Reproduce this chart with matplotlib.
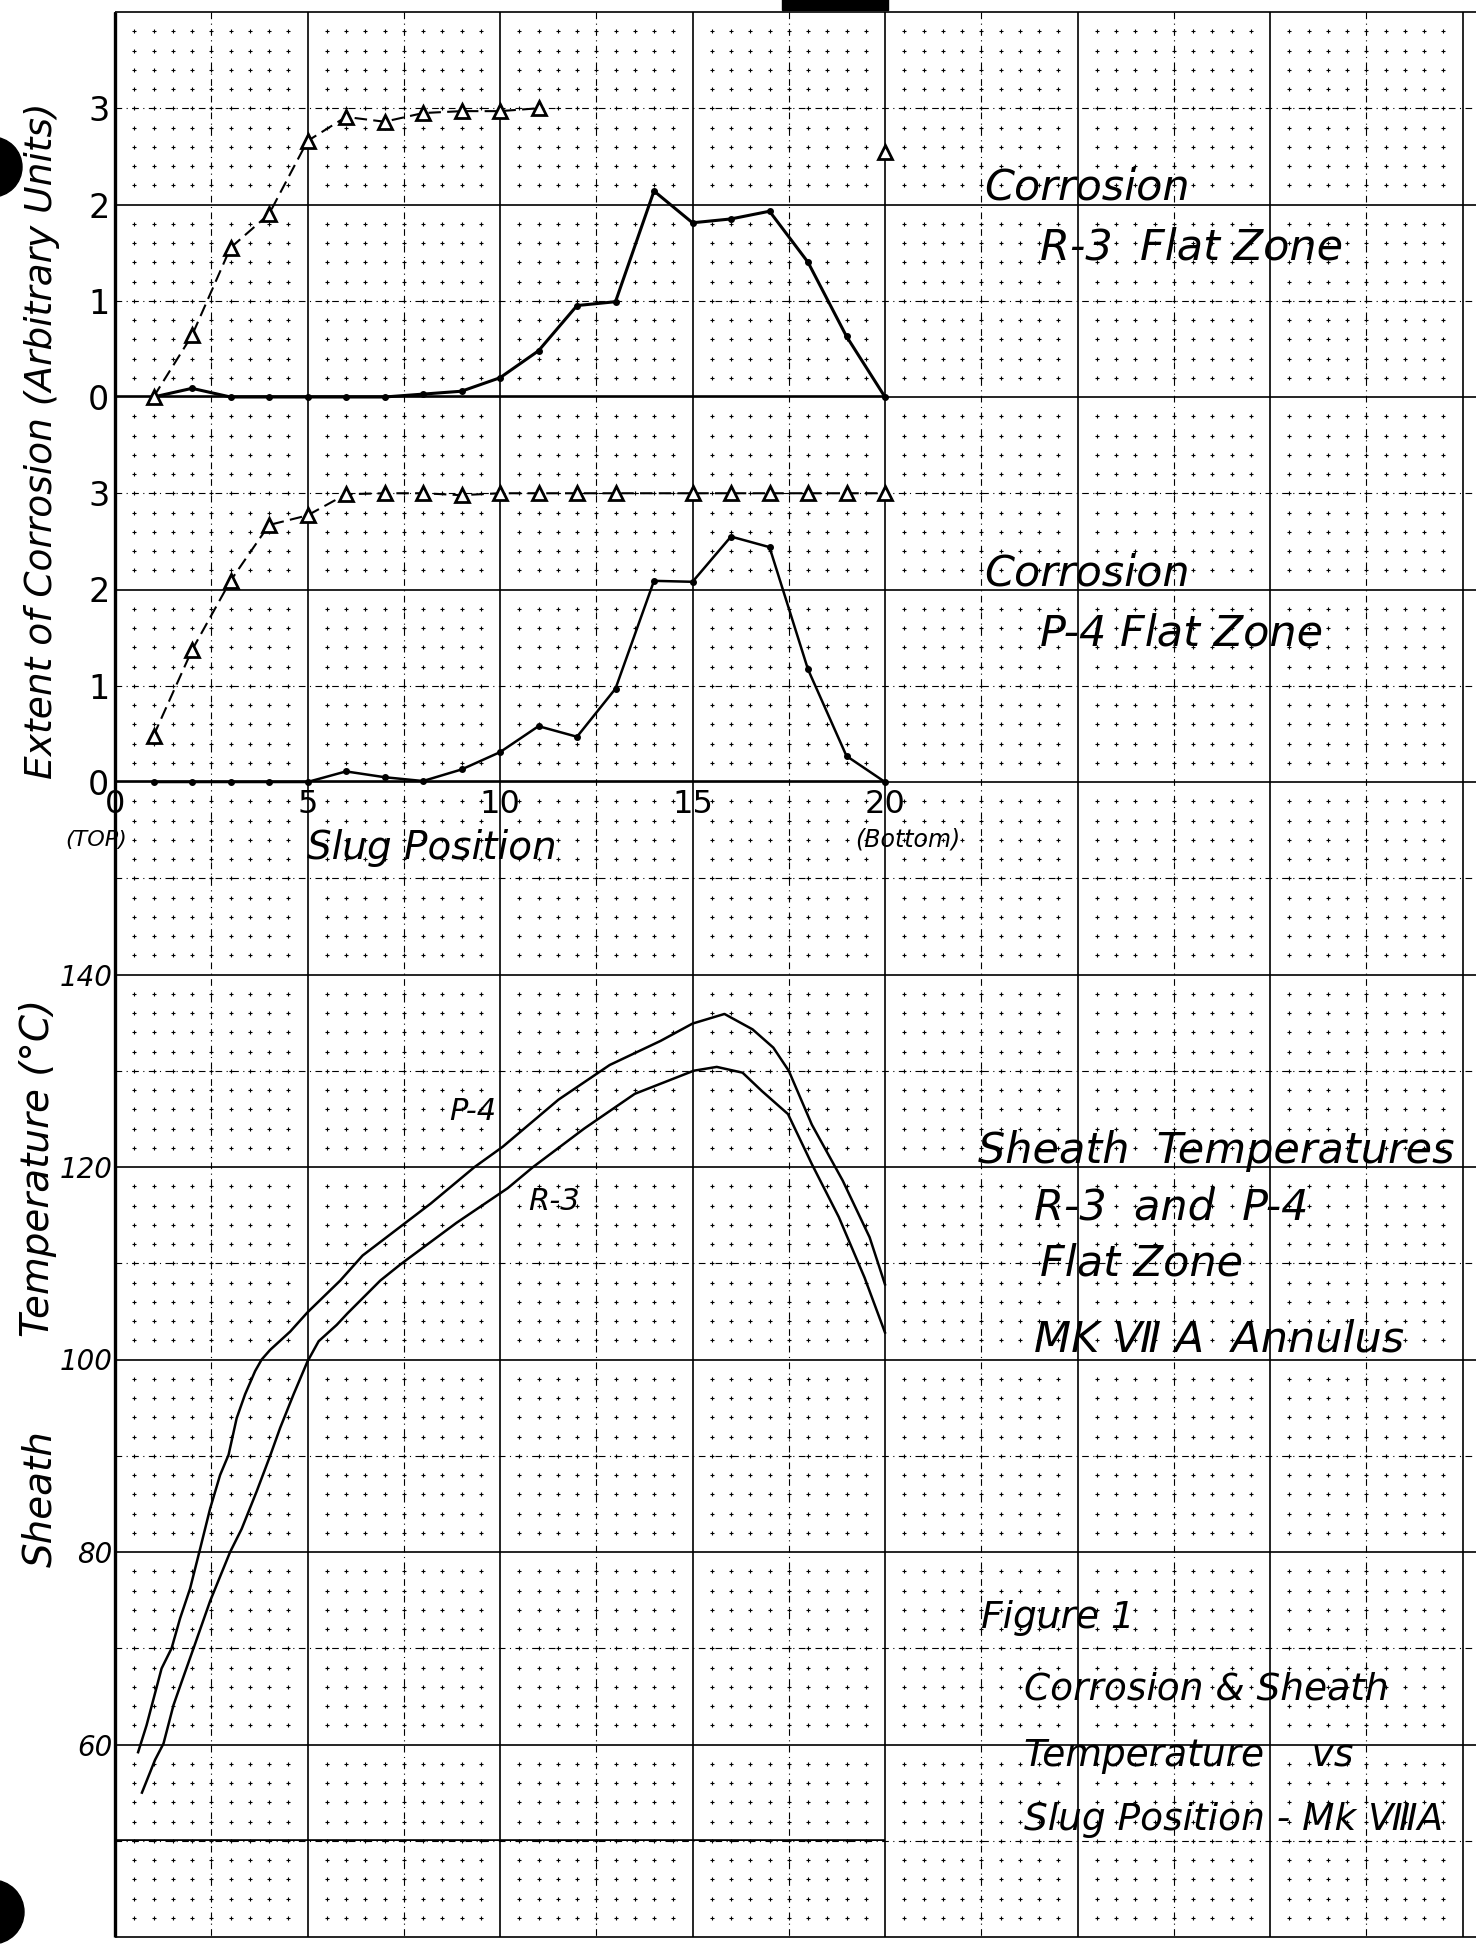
import numpy as np
import matplotlib
matplotlib.use("Agg")
from matplotlib import pyplot as plt
from matplotlib.patches import Circle, Rectangle

# ---- data ----
slug = list(range(1, 21))

# R-3 flat zone corrosion (solid line) and triangle series (dashed)
r3_corrosion = [0, 0.09, 0, 0, 0, 0, 0, 0.03, 0.06, 0.2,
                0.48, 0.95, 0.99, 2.14, 1.81, 1.85, 1.93, 1.4, 0.63, 0]
r3_tri_x = list(range(1, 12))
r3_tri = [0, 0.64, 1.55, 1.9, 2.66, 2.91, 2.86, 2.95, 2.97, 2.97, 3.0]
r3_tri_extra_x = [20]
r3_tri_extra = [2.55]

# P-4 flat zone corrosion
p4_corrosion = [0, 0, 0, 0, 0, 0.11, 0.05, 0.01, 0.13, 0.31,
                0.58, 0.47, 0.97, 2.09, 2.08, 2.55, 2.44, 1.17, 0.27, 0]
p4_tri_x = list(range(1, 14)) + list(range(15, 21))
p4_tri = [0.48, 1.37, 2.09, 2.67, 2.77, 2.99, 3.0, 3.0, 2.98, 3.0,
          3.0, 3.0, 3.0, 3.0, 3.0, 3.0, 3.0, 3.0, 3.0]

# sheath temperatures (deg C)
p4_temp_x = [0.6, 0.82, 1.21, 1.47, 1.69, 1.95, 2.19, 2.47, 2.73, 2.95,
             3.16, 3.38, 3.64, 3.81, 4.03, 4.55, 5.0, 5.85, 6.43, 8.2,
             9.34, 10.07, 11.52, 12.85, 14.17, 15.0, 15.83, 16.56, 17.1,
             17.5, 18.1, 18.9, 19.6, 20.0]
p4_temp = [59.2, 62.0, 67.9, 70, 73.1, 76.2, 80, 84.5, 88, 90.1,
           93.9, 96.4, 98.8, 100, 101, 102.9, 104.9, 108.2, 110.8, 116.2,
           120, 122.1, 127, 130.6, 133.1, 134.9, 135.9, 134.3, 132.4,
           130, 124.4, 118.6, 112.7, 107.8]
r3_temp_x = [0.7, 1.04, 1.26, 1.52, 1.73, 2.04, 2.47, 2.99, 3.29, 3.68,
             4.03, 4.29, 4.64, 5.0, 5.29, 5.76, 6.04, 6.89, 7.42, 8.87,
             10.2, 10.86, 12.19, 13.5, 15.03, 15.63, 16.3, 16.8, 17.48,
             18.1, 18.8, 19.47, 20.0]
r3_temp = [55, 58.4, 60.1, 64.1, 66.5, 70, 74.9, 80, 82.4, 86.3,
           90, 92.9, 96.4, 99.8, 101.9, 103.6, 104.8, 108.2, 109.9, 114.2,
           117.8, 120, 124, 127.6, 130, 130.4, 129.8, 127.9, 125.5,
           120.3, 114.8, 108.5, 102.8]

corr_ticks = [0, 1, 2, 3]
slug_ticks = [0, 5, 10, 15, 20]
temp_ticks = [60, 80, 100, 120, 140]

# ---- page geometry (pixels) ----
W, H = 1476, 1946
X0 = 115.0          # slug position 0
MAJ = 192.5         # graph paper major square
UNIT = MAJ / 5      # one slug position
TOP = 12.0
BOT = 1937.0

fig = plt.figure(figsize=(W / 100, H / 100), dpi=100)
fig.patch.set_facecolor("white")

bg = fig.add_axes([0, 0, 1, 1])
bg.set_xlim(0, W)
bg.set_ylim(H, 0)
bg.axis("off")

# graph paper
xs_major = np.arange(X0, W + 1, MAJ)
ys_major = np.arange(TOP, BOT + 1, MAJ)
bg.vlines(xs_major, TOP, BOT, color="black", lw=1.2)
bg.hlines(ys_major, X0, W, color="black", lw=1.2)
bg.vlines(xs_major + MAJ / 2, TOP, BOT, color="black", lw=0.8,
          linestyles=(0, (6, 4, 1, 4)))
bg.hlines(ys_major[:-1] + MAJ / 2, X0, W, color="black", lw=0.8,
          linestyles=(0, (6, 4, 1, 4)))
mx = np.arange(X0, W, MAJ / 10)
my = np.arange(TOP, BOT, MAJ / 10)
gx, gy = np.meshgrid(mx, my)
keep = (np.round((gx - X0) / (MAJ / 10)) % 10 != 0) & \
       (np.round((gy - TOP) / (MAJ / 10)) % 10 != 0)
bg.scatter(gx[keep], gy[keep], marker="+", s=9, lw=0.8, color="black")
bg.vlines([X0], TOP, BOT, color="black", lw=2.4)

# scan artefacts: punch holes and the stamp bar at the top
bg.add_patch(Circle((-8, 167), 30, color="black"))
bg.add_patch(Circle((-8, 1912), 32, color="black"))
bg.add_patch(Rectangle((782, -2), 106, 12, color="black"))


def px_axes(left, right, top, bottom):
    ax = fig.add_axes([left / W, 1 - bottom / H,
                       (right - left) / W, (bottom - top) / H])
    ax.patch.set_alpha(0)
    for s in ax.spines.values():
        s.set_visible(False)
    ax.tick_params(length=0)
    ax.set_xlim(0, 20)
    return ax


hand = dict(family="DejaVu Sans", style="italic")

# corrosion panels
r3_zero = TOP + 2 * MAJ
p4_zero = TOP + 4 * MAJ
ax1 = px_axes(X0, X0 + 20 * UNIT, r3_zero - 3 * MAJ / 2, r3_zero)
ax2 = px_axes(X0, X0 + 20 * UNIT, p4_zero - 3 * MAJ / 2, p4_zero)
for ax in (ax1, ax2):
    ax.set_ylim(0, 3)
    ax.axhline(0, color="black", lw=2.6)
    ax.set_yticks(corr_ticks)
    ax.set_yticklabels([str(t) for t in corr_ticks], fontsize=24)
    ax.tick_params(axis="y", pad=4)

ax1.set_xticks([])
ax1.plot(slug, r3_corrosion, "-o", color="black", lw=2.2, ms=4, clip_on=False)
ax1.plot(r3_tri_x, r3_tri, ls=(0, (6, 3)), color="black", lw=1.5,
         marker="^", ms=10, mfc="white", mec="black", mew=2, clip_on=False)
ax1.plot(r3_tri_extra_x, r3_tri_extra, ls="none", marker="^", ms=10,
         mfc="white", mec="black", mew=2, clip_on=False)

ax2.plot(slug, p4_corrosion, "-o", color="black", lw=1.8, ms=4, clip_on=False)
ax2.plot(p4_tri_x, p4_tri, ls=(0, (6, 3)), color="black", lw=1.5,
         marker="^", ms=10, mfc="white", mec="black", mew=2, clip_on=False)
ax2.set_xticks(slug_ticks)
ax2.set_xticklabels([str(t) for t in slug_ticks], fontsize=23)
ax2.tick_params(axis="x", pad=5)

# temperature panel
t_top = TOP + 5 * MAJ
ax3 = px_axes(X0, X0 + 20 * UNIT, t_top, t_top + 4.5 * MAJ)
ax3.set_ylim(50, 140)
ax3.axhline(50, color="black", lw=2.6)
ax3.set_xticks([])
ax3.set_yticks(temp_ticks)
ax3.set_yticklabels([str(t) for t in temp_ticks], fontsize=20, **hand)
ax3.tick_params(axis="y", pad=2)
ax3.plot(p4_temp_x, p4_temp, color="black", lw=1.8, clip_on=False)
ax3.plot(r3_temp_x, r3_temp, color="black", lw=1.8, clip_on=False)
ax3.text(9.3, 125.8, "P-4", fontsize=22, ha="center", va="center", **hand)
ax3.text(11.4, 116.4, "R-3", fontsize=22, ha="center", va="center", **hand)

# axis titles
bg.text(42, 441, "Extent of Corrosion (Arbitrary Units)", rotation=90,
        fontsize=27, ha="center", va="center", **hand)
bg.text(38, 1168, "Temperature (°C)", rotation=90,
        fontsize=28, ha="center", va="center", **hand)
bg.text(40, 1499, "Sheath", rotation=90,
        fontsize=28, ha="center", va="center", **hand)
bg.text(96, 840, "(TOP)", fontsize=16, ha="center", va="center", **hand)
bg.text(432, 848, "Slug Position", fontsize=28, ha="center", va="center", **hand)
bg.text(908, 840, "(Bottom)", fontsize=17, ha="center", va="center", **hand)

# panel captions
lab = dict(fontsize=31, ha="left", va="baseline", **hand)
bg.text(984, 200, "Corrosion", **lab)
bg.text(1040, 259, "R-3  Flat Zone", **lab)
bg.text(984, 585, "Corrosion", **lab)
bg.text(1040, 645, "P-4 Flat Zone", **lab)
bg.text(978, 1163, "Sheath  Temperatures", **lab)
bg.text(1034, 1220, "R-3  and  P-4", **lab)
bg.text(1040, 1276, "Flat Zone", **lab)
bg.text(1034, 1352, "MK Ⅶ A  Annulus", **lab)

cap = dict(fontsize=27, ha="left", va="baseline", **hand)
bg.text(981, 1628, "Figure 1", **cap)
bg.text(1024, 1700, "Corrosion & Sheath", **cap)
bg.text(1024, 1766, "Temperature    vs", **cap)
bg.text(1024, 1830, "Slug Position - Mk ⅧA", **cap)

fig.savefig("out.png", dpi=100, facecolor="white")
